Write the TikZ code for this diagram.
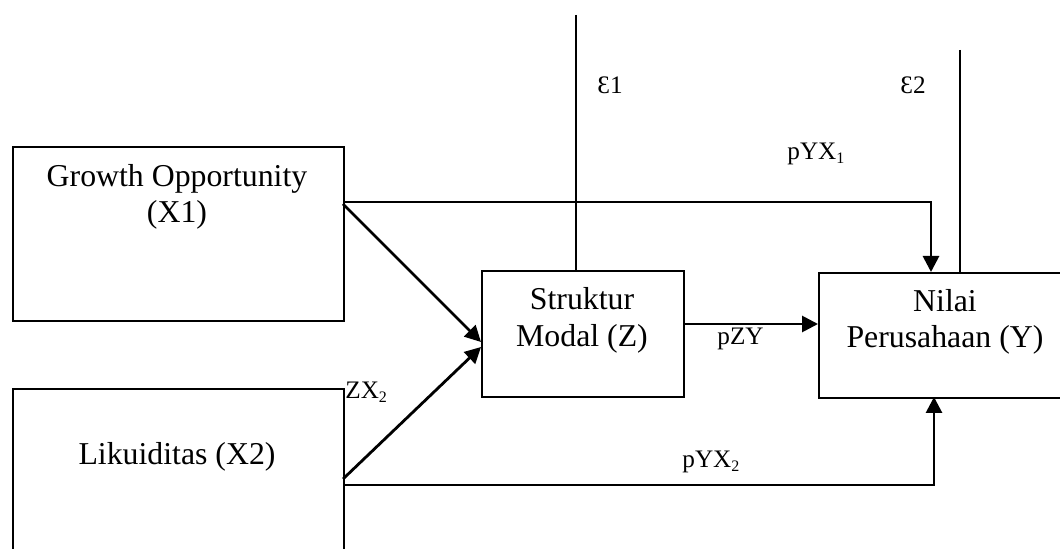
\documentclass[tikz,border=0pt]{standalone}
\usepackage{fontspec}
\setmainfont{Liberation Serif}
\usetikzlibrary{arrows.meta}
\newcommand\lowsub[1]{\raisebox{-0.3ex}{\fontsize{8}{8}\selectfont #1}}
\begin{document}
\begin{tikzpicture}[x=0.5pt,y=-0.5pt,
  boxstyle/.style={draw, line width=1.1pt, anchor=north west, inner sep=0pt},
  maintext/.style={anchor=base, inner sep=0pt, font=\fontsize{15.9}{18}\selectfont},
  lbl/.style={anchor=base west, inner sep=0pt, font=\fontsize{12.6}{14}\selectfont},
  plain/.style={line width=1.4pt},
  arr/.style={line width=1.4pt, -{Triangle[length=8pt,width=8pt]}}]
\clip (0,0) rectangle (1060,549);
\fill[white] (0,0) rectangle (1060,549);
% boxes
\node[boxstyle, minimum width=165.5pt, minimum height=87pt] (x1) at (12,146) {};
\node[boxstyle, minimum width=165.5pt, minimum height=100pt] (x2) at (12,388) {};
\node[boxstyle, minimum width=101pt, minimum height=63pt] (z) at (481,270) {};
\node[boxstyle, minimum width=130pt, minimum height=62.5pt] (y) at (818,272) {};
% box texts
\node[maintext] (t1a) at (177,187) {Growth Opportunity};
\node[maintext] (t1b) at (177,223) {(X1)};
\node[maintext] (t2) at (177,465) {Likuiditas (X2)};
\node[maintext] (tza) at (582,310) {Struktur};
\node[maintext] (tzb) at (582,347) {Modal (Z)};
\node[maintext] (tya) at (945,312) {Nilai};
\node[maintext] (tyb) at (945,348) {Perusahaan (Y)};
% connector end points
\coordinate (x1o) at (343,202);
\coordinate (yin1) at (931,272);
\coordinate (x2o) at (343,485);
\coordinate (yin2) at (934,397);
\coordinate (x1d) at (343,204);
\coordinate (zin1) at (481,342);
\coordinate (x2d) at (343,479);
\coordinate (zin2) at (481,347);
\coordinate (zo) at (683,324);
\coordinate (yin3) at (818,324);
\coordinate (e1top) at (576,15);
\coordinate (e1bot) at (576,270);
\coordinate (e2top) at (960,50);
\coordinate (e2bot) at (960,272);
% connectors
\draw[plain] (e1top) -- (e1bot);
\draw[plain] (e2top) -- (e2bot);
\draw[arr] (x1o) -| (yin1);
\draw[arr] (x2o) -| (yin2);
\draw[arr] (x1d) -- (zin1);
\draw[arr] (x2d) -- (zin2);
\draw[arr] (zo) -- (yin3);
% labels
\node[lbl] (le1) at (597,94) {Ɛ1};
\node[lbl] (le2) at (900,94) {Ɛ2};
\node[lbl] (lyx1) at (787,160) {pYX\lowsub{1}};
\node[lbl] (lzy) at (717,345) {pZY};
\node[lbl] (lzx2) at (345,399) {ZX\lowsub{2}};
\node[lbl] (lyx2) at (682,468) {pYX\lowsub{2}};
\end{tikzpicture}
\end{document}
